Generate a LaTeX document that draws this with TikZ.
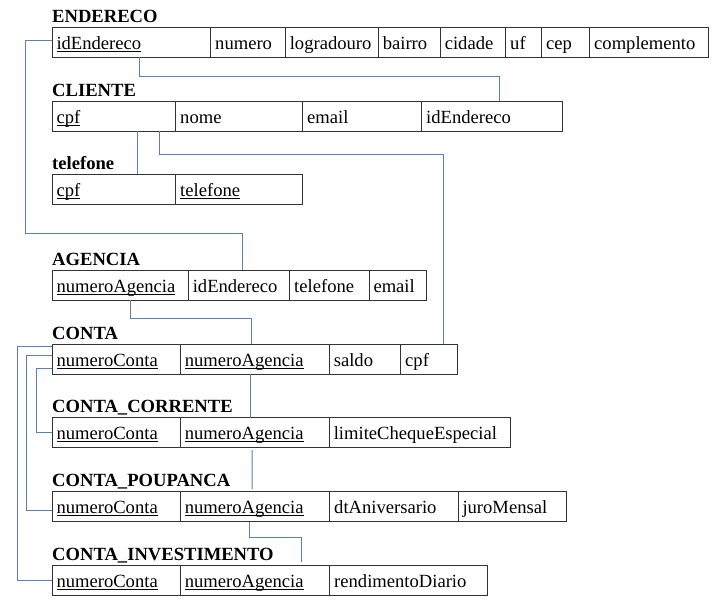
\documentclass[tikz,border=0pt]{standalone}
\usepackage{fontspec}
\setmainfont{Liberation Serif}
\usepackage{tikz}
\usetikzlibrary{positioning,calc}
\definecolor{ligacao}{HTML}{5A7FBF}
% chave primaria sublinhada
\newcommand{\pk}[1]{\setbox0\hbox{#1}\rlap{\rule[-2.4pt]{\wd0}{0.9pt}}\box0}
\tikzset{campo/.style={draw=black!80,line width=1pt,anchor=north west,
                       inner xsep=4.5pt,inner ysep=0pt,outer sep=0pt,
                       text height=22pt,text depth=8pt,align=left},
         titulo/.style={font=\fontsize{18.6}{22}\selectfont\bfseries,
                        anchor=base west,inner sep=0pt},
         liga/.style={draw=ligacao,line width=1pt}}
% #1=prefixo, #2=canto, #3=titulo, #4=campos texto/largura
\newcommand{\tabela}[4]{%
  \node[inner sep=0pt,outer sep=0pt,minimum size=0pt] (#1-0) at #2 {};
  \foreach \txt/\lg [count=\i, remember=\i as \j (initially 0)] in {#4}
    {
      \pgfmathsetmacro{\tw}{\lg-9}
      \node[campo,text width=\tw pt] (#1-\i) at (#1-\j.north east) {\txt};
    }
  \node[titulo] (t-#1) at ([yshift=5pt]#1-1.north west) {#3};
}

\begin{document}
\begin{tikzpicture}[x=1pt,y=-1pt,font=\fontsize{18.6}{22}\selectfont]
        \useasboundingbox (0,0) rectangle (723,606);
        %
        % tabelas
        \tabela{end}{(52,27.3)}{ENDERECO}{\pk{idEndereco}/158.7,numero/74.6,logradouro/93,bairro/62,cidade/65.4,uf/36,cep/48,complemento/119}
        \tabela{cli}{(52,101)}{CLIENTE}{\pk{cpf}/123.7,nome/127,email/119,idEndereco/141}
        \tabela{tel}{(52,174.3)}{telefone}{\pk{cpf}/123.7,\pk{telefone}/127}
        \tabela{ag}{(52,270)}{AGENCIA}{\pk{numeroAgencia}/136.3,idEndereco/101.4,telefone/79.3,email/57.3}
        \tabela{conta}{(52,344)}{CONTA}{\pk{numeroConta}/128.3,\pk{numeroAgencia}/149,saldo/71.4,cpf/56.6}
        \tabela{cc}{(52,417.5)}{CONTA\_CORRENTE}{\pk{numeroConta}/128.3,\pk{numeroAgencia}/149,limiteChequeEspecial/181.2}
        \tabela{cp}{(52,491.7)}{CONTA\_POUPANCA}{\pk{numeroConta}/128.3,\pk{numeroAgencia}/149.4,dtAniversario/128.3,juroMensal/108.7}
        \tabela{ci}{(52,565.3)}{CONTA\_INVESTIMENTO}{\pk{numeroConta}/128.3,\pk{numeroAgencia}/149.4,rendimentoDiario/158}
        %
        % ligacoes
        \draw[liga] ([xshift=8.3pt]end-1.south) -- ++(0,18.7) -| ([xshift=6.8pt]cli-4.north);
        \draw[liga] ([yshift=2.3pt]end-1.west) -- ++(-27,0) -- ++(0,193.3) -| ([xshift=3.3pt]ag-2.north);
        \draw[liga] ([xshift=23.7pt]cli-1.south) -- ([xshift=23.7pt]tel-1.north);
        \draw[liga] ([xshift=45.8pt]cli-1.south) -- ++(0,23) -| ([xshift=14pt]conta-4.north);
        \draw[liga] ([xshift=10.2pt]ag-1.south) -- ++(0,18.6) -| ([xshift=-3.1pt]conta-2.north);
        \draw[liga] ([xshift=-4.8pt]conta-2.south) -- ([xshift=-4.8pt]cc-2.north);
        \draw[liga,shorten <=2.5pt,shorten >=2.5pt] ([xshift=-2.8pt]cc-2.south) -- ([xshift=-2.8pt]cp-2.north);
        \draw[liga,shorten >=3.5pt] ([xshift=-5.3pt]cp-2.south) -- ++(0,15.6) -| ([xshift=46pt]ci-2.north);
        \foreach \Y/\X/\Dy/\Nome in {13/34.7/0/ci,3.3/25.7/-3.3/cp,-9.7/15.7/0/cc}
            {\draw[liga] ([yshift=\Y pt]conta-1.west) -- ++(-\X,0) |- ([yshift=\Dy pt]\Nome-1.west);}
\end{tikzpicture}
\end{document}
